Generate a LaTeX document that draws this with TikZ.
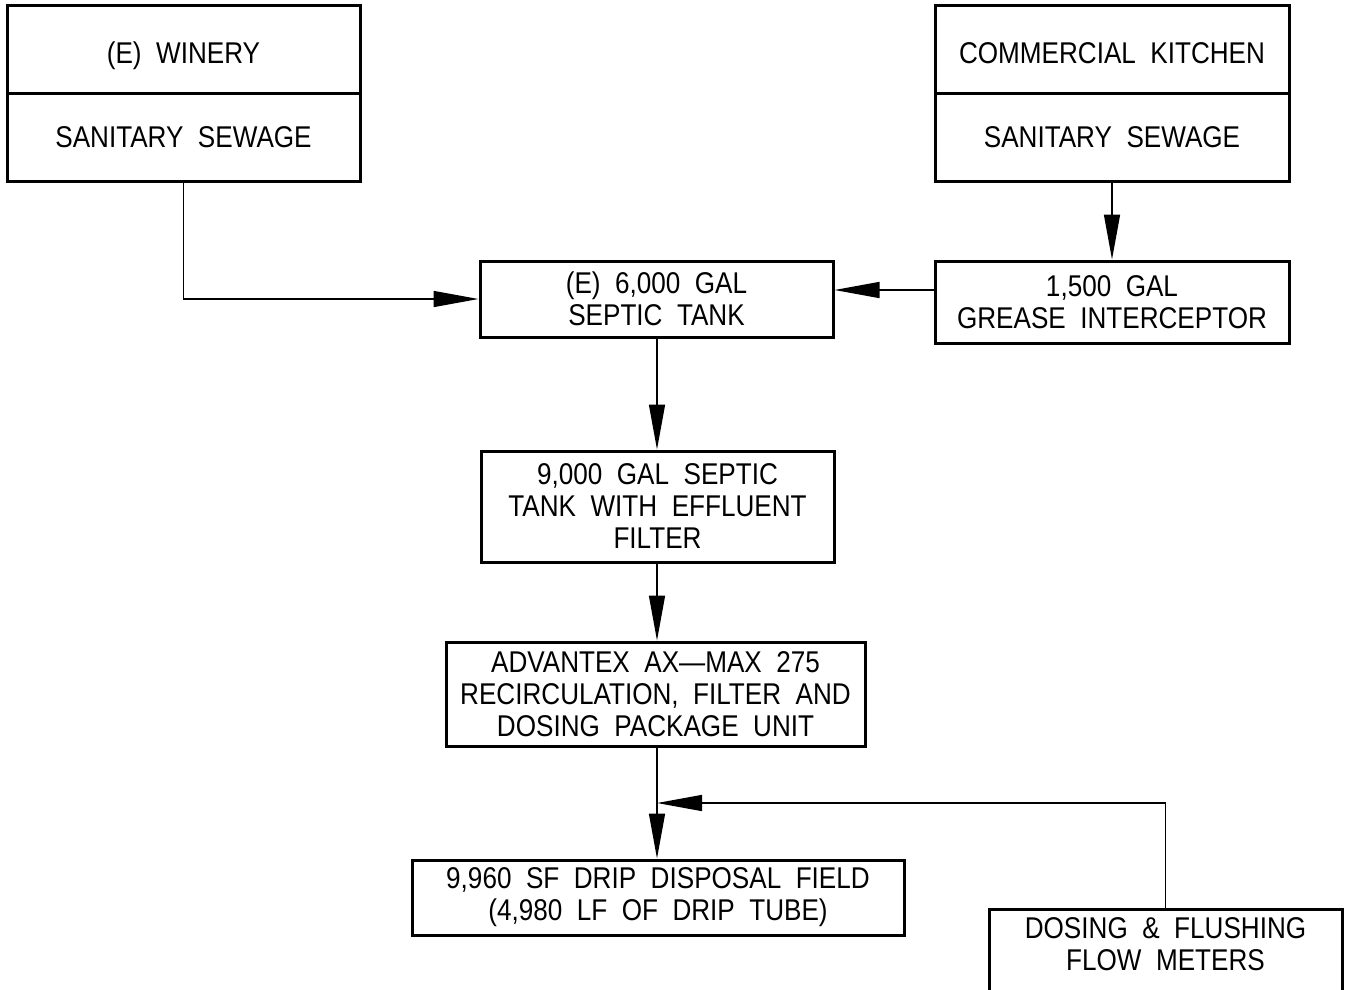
\documentclass[tikz,border=0pt]{standalone}
\usepackage{fontspec}
\setmainfont{Liberation Sans}[FakeStretch=0.87,WordSpace=2.0]
\usetikzlibrary{arrows.meta}
\begin{document}
\begin{tikzpicture}[x=1pt,y=-1pt,
  lbl/.style={align=center, inner sep=0pt, font=\fontsize{30}{32}\selectfont},
  box/.style={lbl, draw, line width=3pt},
  topbox/.style={box, text height=29.5pt, text depth=0pt},
  conn/.style={line width=1.5pt},
  arr/.style={conn, -{Triangle[length=45pt,width=16pt]}}]
\useasboundingbox (0,0) rectangle (1347,989);
\clip (0,0) rectangle (1347,989);
\fill[white] (0,0) rectangle (1347,989);
% winery
\node[topbox, minimum width=353pt, minimum height=88pt] (wineryT) at (183.5,49) {(E) WINERY};
\node[box, minimum width=353pt, minimum height=88pt] (wineryB) at (183.5,137) {SANITARY SEWAGE};
% kitchen
\node[topbox, minimum width=354pt, minimum height=88pt] (kitchenT) at (1112,49) {COMMERCIAL KITCHEN};
\node[box, minimum width=354pt, minimum height=88pt] (kitchenB) at (1112,137) {SANITARY SEWAGE};
% tanks
\node[box, minimum width=353pt, minimum height=76pt] (septic6) at (656.5,299) {(E) 6,000 GAL\\SEPTIC TANK};
\node[box, minimum width=354pt, minimum height=82pt] (grease) at (1112,302) {1,500 GAL\\GREASE INTERCEPTOR};
\node[box, minimum width=353pt, minimum height=111pt] (septic9) at (657.5,506.5) {9,000 GAL SEPTIC\\TANK WITH EFFLUENT\\FILTER};
\node[box, minimum width=419pt, minimum height=104pt] (advantex) at (655.5,694) {ADVANTEX AX---MAX 275\\RECIRCULATION, FILTER AND\\DOSING PACKAGE UNIT};
\node[box, minimum width=492pt, minimum height=75pt] (drip) at (658,897.5) {9,960 SF DRIP DISPOSAL FIELD\\(4,980 LF OF DRIP TUBE)};
\node[box, minimum width=353pt, minimum height=84pt] (dosing) at (1165.5,951) {};
\node[lbl] (dosingtxt) at (1165.5,944) {DOSING \& FLUSHING\\FLOW METERS};
% connectors
\draw[arr] (wineryB.south) |- (septic6.west);
\draw[arr] (kitchenB.south) -- (grease.north);
\draw[arr] (grease.west |- 0,290) -- (septic6.east |- 0,290);
\draw[arr] (septic6.south -| 657,0) -- (septic9.north -| 657,0);
\draw[arr] (septic9.south -| 657,0) -- (advantex.north -| 657,0);
\draw[arr] (advantex.south -| 657,0) -- (drip.north -| 657,0);
\draw[arr] (dosing.north) |- (657,803);
\end{tikzpicture}
\end{document}
